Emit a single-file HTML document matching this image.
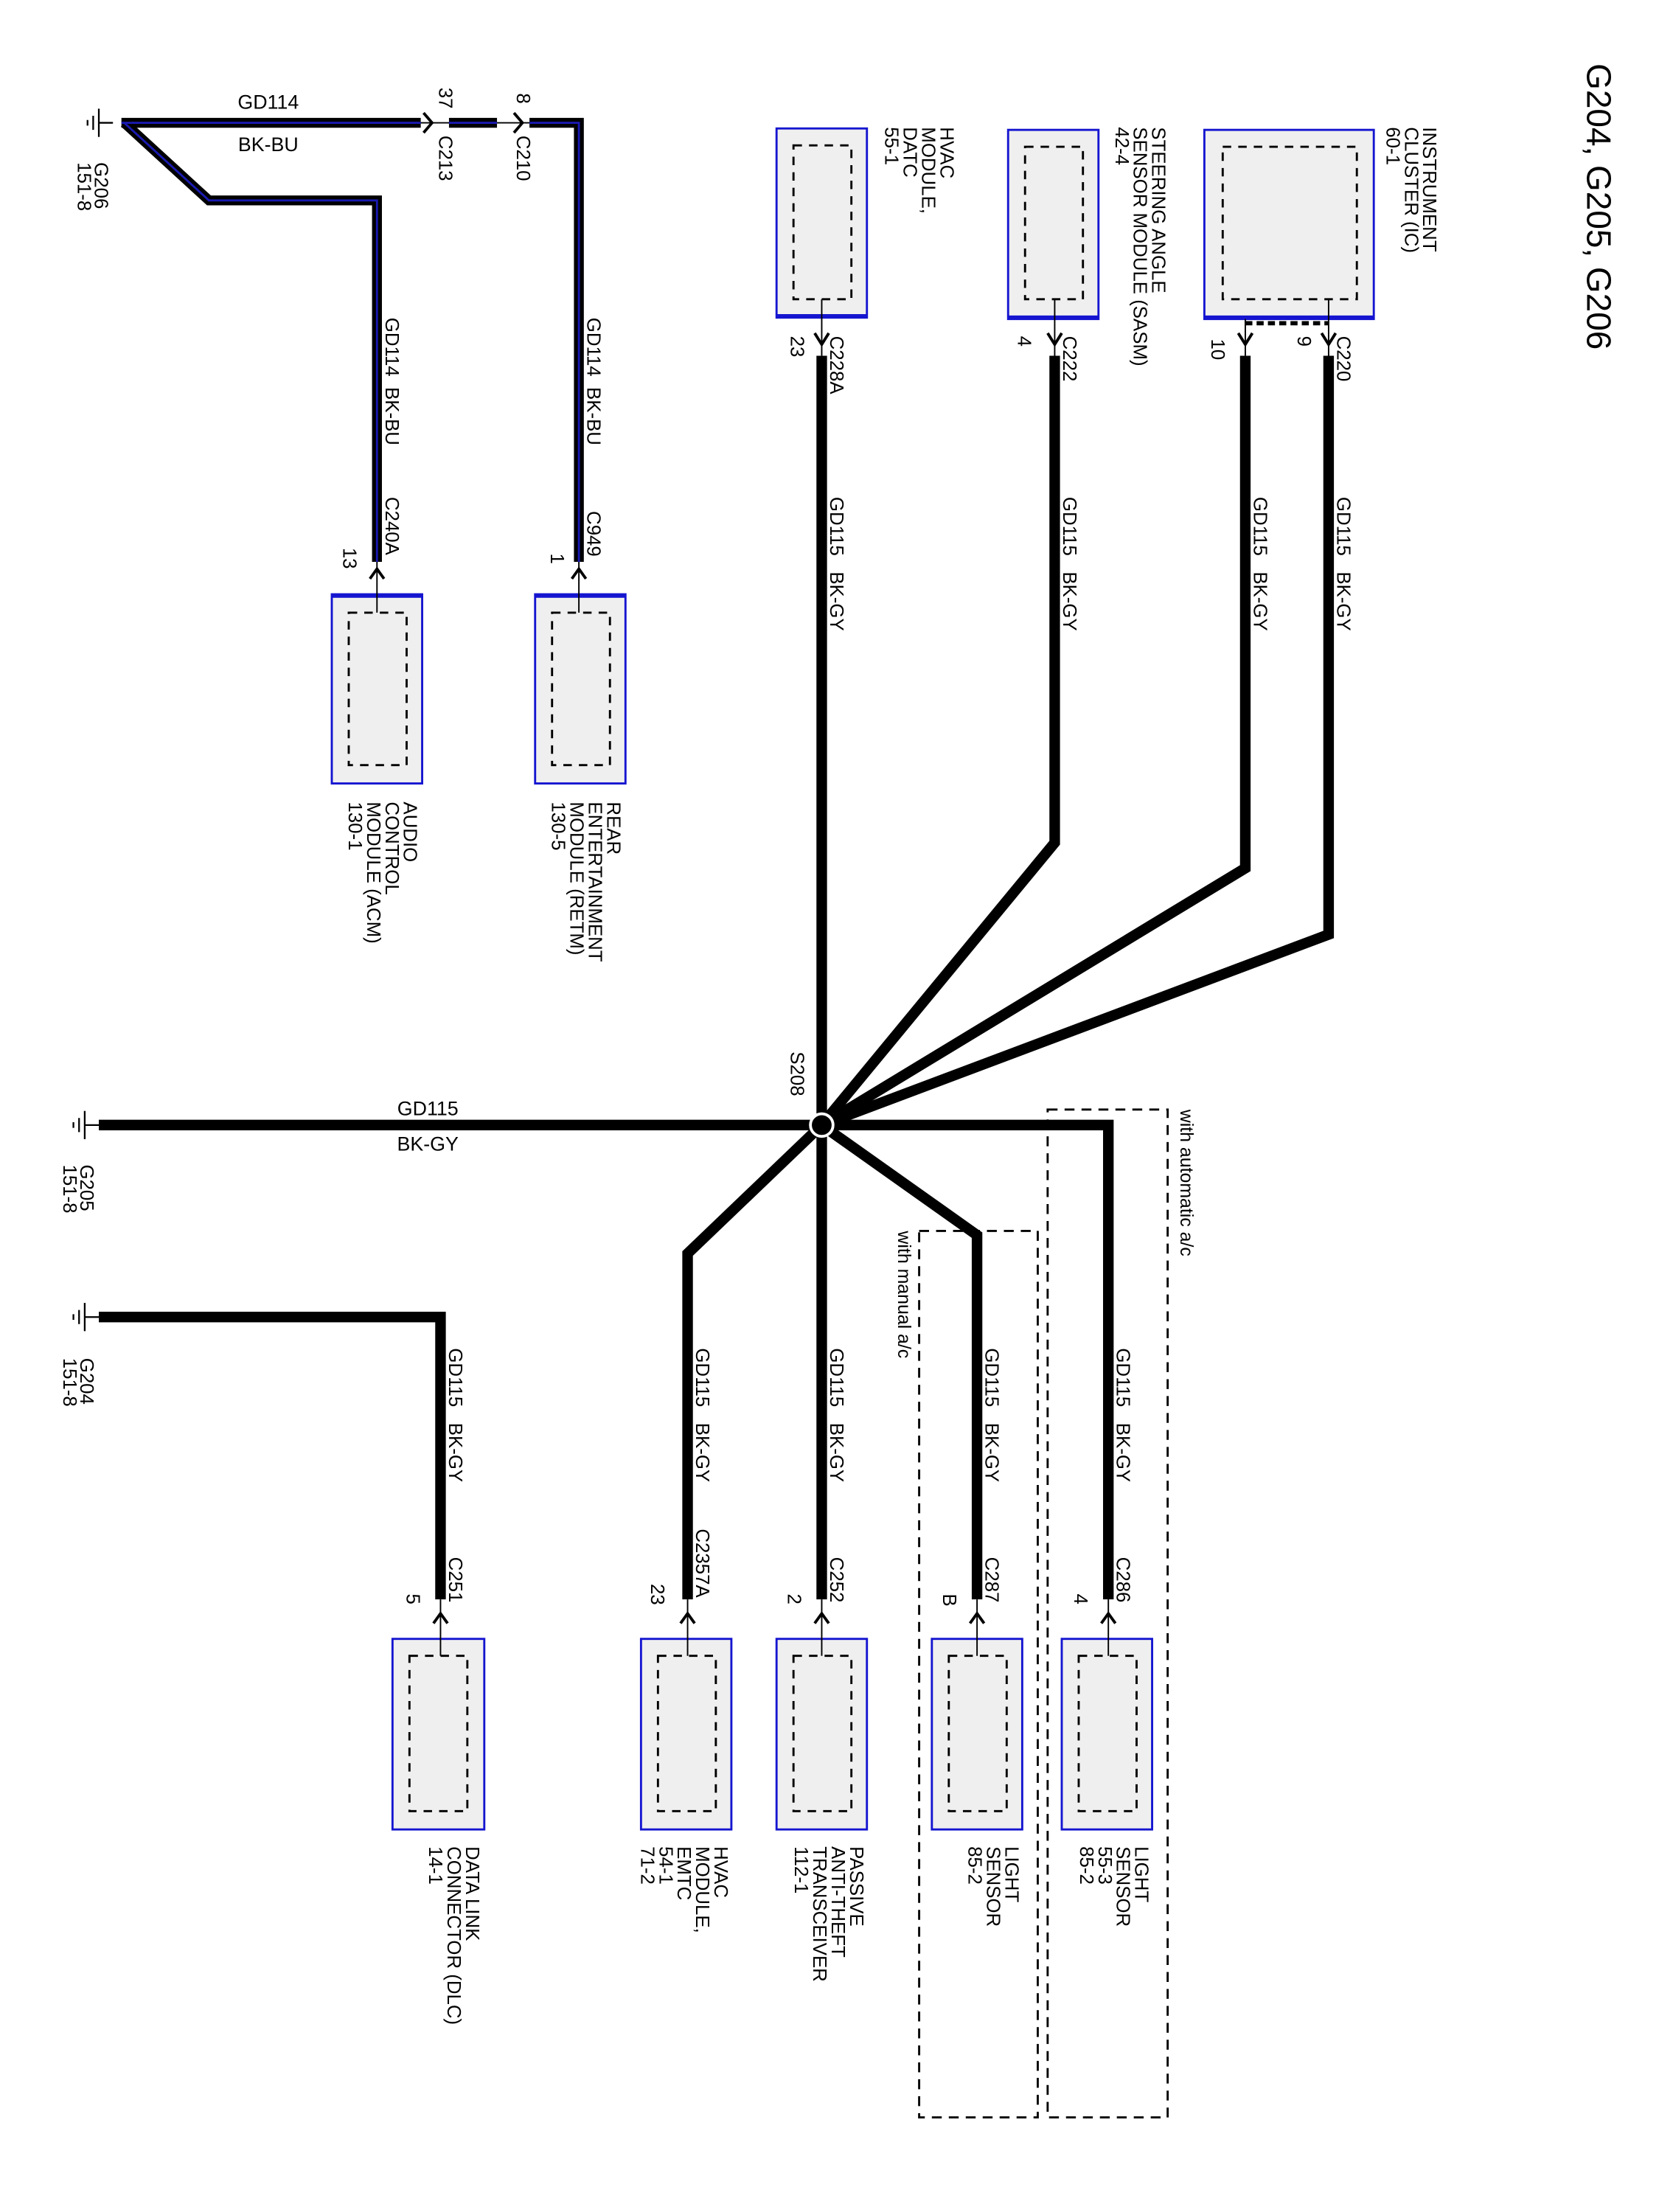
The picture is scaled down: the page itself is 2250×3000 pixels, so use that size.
<!DOCTYPE html>
<html><head><meta charset="utf-8"><style>
html,body{margin:0;padding:0;background:#fff}
svg{display:block}
text{font-family:"Liberation Sans",sans-serif;fill:#000}
</style></head><body>
<svg width="2250" height="3000" viewBox="0 0 1175 1567" preserveAspectRatio="none" xmlns="http://www.w3.org/2000/svg">
<defs>
<g id="gnd"><line x1="0" y1="-2" x2="0" y2="2" stroke="#000" stroke-width="1.2"/><line x1="4" y1="-5" x2="4" y2="5" stroke="#000" stroke-width="1.2"/><line x1="8" y1="-10" x2="8" y2="10" stroke="#000" stroke-width="1.2"/><line x1="8" y1="0" x2="18" y2="0" stroke="#000" stroke-width="1.2"/></g>
</defs>
<text transform="translate(1124,45) rotate(90)" font-size="24">G204, G205, G206</text>

<rect x="651" y="872" width="84" height="628" fill="none" stroke="#000" stroke-width="1.5" stroke-dasharray="7,5"/>
<rect x="742" y="786" width="85" height="714" fill="none" stroke="#000" stroke-width="1.5" stroke-dasharray="7,5"/>
<text transform="translate(636,872) rotate(90)" font-size="13">with manual a/c</text>
<text transform="translate(836,786) rotate(90)" font-size="13">with automatic a/c</text>

<g stroke="#1515d0" stroke-width="1.5" fill="#efefef">
<rect x="550" y="91" width="64" height="134"/>
<rect x="714" y="92" width="64" height="134"/>
<rect x="853" y="92" width="120" height="134"/>
<rect x="379" y="421" width="64" height="134"/>
<rect x="235" y="421" width="64" height="134"/>
<rect x="278" y="1161" width="65" height="135"/>
<rect x="454" y="1161" width="64" height="135"/>
<rect x="550" y="1161" width="64" height="135"/>
<rect x="660" y="1161" width="64" height="135"/>
<rect x="752" y="1161" width="64" height="135"/>
</g>
<g stroke="#1515d0" stroke-width="3">
<line x1="550" y1="224" x2="614" y2="224"/><line x1="714" y1="225" x2="778" y2="225"/><line x1="853" y1="225" x2="973" y2="225"/>
<line x1="379" y1="422" x2="443" y2="422"/><line x1="235" y1="422" x2="299" y2="422"/>
</g>
<g fill="none" stroke="#000" stroke-width="1.5" stroke-dasharray="6,5">
<rect x="562" y="103" width="41" height="109"/>
<rect x="726" y="104" width="41" height="108"/>
<rect x="866" y="104" width="95" height="108"/>
<rect x="391" y="434" width="41" height="108"/>
<rect x="247" y="434" width="41" height="108"/>
<rect x="290" y="1173" width="41" height="110"/>
<rect x="466" y="1173" width="41" height="110"/>
<rect x="562" y="1173" width="41" height="110"/>
<rect x="672" y="1173" width="41" height="110"/>
<rect x="764" y="1173" width="41" height="110"/>
</g>
<line x1="882" y1="229" x2="941" y2="229" stroke="#000" stroke-width="3" stroke-dasharray="5,3"/>

<g stroke="#000" stroke-width="1" fill="none">
<line x1="582" y1="212" x2="582" y2="252"/><line x1="747" y1="212" x2="747" y2="252"/>
<line x1="882" y1="226" x2="882" y2="252"/><line x1="941" y1="212" x2="941" y2="252"/>
<line x1="410" y1="398" x2="410" y2="434"/><line x1="267" y1="398" x2="267" y2="434"/>
<line x1="312" y1="1133" x2="312" y2="1173"/><line x1="487" y1="1133" x2="487" y2="1173"/>
<line x1="582" y1="1133" x2="582" y2="1173"/><line x1="692" y1="1133" x2="692" y2="1173"/>
<line x1="785" y1="1133" x2="785" y2="1173"/>
<line x1="290" y1="87" x2="380" y2="87"/>
</g>
<g stroke="#000" stroke-width="2" fill="none">
<polyline points="577,236 582,244 587,236"/><polyline points="742,236 747,244 752,236"/>
<polyline points="877,236 882,244 887,236"/><polyline points="936,236 941,244 946,236"/>
<polyline points="405,410 410,403 415,410"/><polyline points="262,410 267,403 272,410"/>
<polyline points="307,1150 312,1143 317,1150"/><polyline points="482,1150 487,1143 492,1150"/>
<polyline points="577,1150 582,1143 587,1150"/><polyline points="687,1150 692,1143 697,1150"/>
<polyline points="780,1150 785,1143 790,1150"/>
<polyline points="300,80 306,87 300,94"/><polyline points="364,80 370,87 364,94"/>
</g>

<g fill="none" stroke-linejoin="miter">
<path d="M86,87 H298" stroke="#000" stroke-width="7"/>
<path d="M318,87 H352" stroke="#000" stroke-width="7"/>
<path d="M375,87 H410 V398" stroke="#000" stroke-width="7"/>
<path d="M88,87 L148,142 H267 V398" stroke="#000" stroke-width="7"/>
<path d="M86,87 H298 M318,87 H352 M375,87 H410 V398" stroke="#1a1ab0" stroke-width="1.5"/>
<path d="M88,87 L148,142 H267 V398" stroke="#1a1ab0" stroke-width="1.5"/>
</g>

<g fill="none" stroke="#000" stroke-width="7.5" stroke-linejoin="miter">
<path d="M582,252 V797"/>
<path d="M747,252 V597 L582,797"/>
<path d="M882,252 V615 L582,797"/>
<path d="M941,252 V662 L582,797"/>
<path d="M70,797 H582"/>
<path d="M582,797 H785 V1133"/>
<path d="M582,797 L692,875 V1133"/>
<path d="M582,797 V1133"/>
<path d="M582,797 L487,888 V1133"/>
<path d="M70,933 H312 V1133"/>
</g>
<circle cx="582" cy="797" r="8" fill="#000" stroke="#fff" stroke-width="2"/>

<use href="#gnd" x="62" y="87"/>
<use href="#gnd" x="52" y="797"/>
<use href="#gnd" x="52" y="933"/>

<g font-size="14">
<text x="190" y="77" text-anchor="middle">GD114</text>
<text x="190" y="107" text-anchor="middle">BK-BU</text>
<text x="303" y="790" text-anchor="middle">GD115</text>
<text x="303" y="815" text-anchor="middle">BK-GY</text>
</g>
<g font-size="13.5">
<text transform="translate(67,115) rotate(90)">G206</text><text transform="translate(55,115) rotate(90)">151-8</text>
<text transform="translate(57,825) rotate(90)">G205</text><text transform="translate(45,825) rotate(90)">151-8</text>
<text transform="translate(57,962) rotate(90)">G204</text><text transform="translate(45,962) rotate(90)">151-8</text>
<text transform="translate(311,62) rotate(90)">37</text><text transform="translate(311,96) rotate(90)">C213</text>
<text transform="translate(366,66) rotate(90)">8</text><text transform="translate(366,96) rotate(90)">C210</text>
<text transform="translate(273,225) rotate(90)" xml:space="preserve">GD114  BK-BU</text>
<text transform="translate(273,352) rotate(90)">C240A</text>
<text transform="translate(243,388) rotate(90)">13</text>
<text transform="translate(416,225) rotate(90)" xml:space="preserve">GD114  BK-BU</text>
<text transform="translate(416,362) rotate(90)">C949</text>
<text transform="translate(390,392) rotate(90)">1</text>
<text transform="translate(588,238) rotate(90)">C228A</text><text transform="translate(560,238) rotate(90)">23</text>
<text transform="translate(753,238) rotate(90)">C222</text><text transform="translate(721,238) rotate(90)">4</text>
<text transform="translate(947,238) rotate(90)">C220</text><text transform="translate(919,238) rotate(90)">9</text>
<text transform="translate(858,240) rotate(90)">10</text>
<text transform="translate(588,352) rotate(90)" xml:space="preserve">GD115   BK-GY</text>
<text transform="translate(753,352) rotate(90)" xml:space="preserve">GD115   BK-GY</text>
<text transform="translate(888,352) rotate(90)" xml:space="preserve">GD115   BK-GY</text>
<text transform="translate(947,352) rotate(90)" xml:space="preserve">GD115   BK-GY</text>
<text transform="translate(560,745) rotate(90)">S208</text>
<text transform="translate(318,955) rotate(90)" xml:space="preserve">GD115   BK-GY</text>
<text transform="translate(493,955) rotate(90)" xml:space="preserve">GD115   BK-GY</text>
<text transform="translate(588,955) rotate(90)" xml:space="preserve">GD115   BK-GY</text>
<text transform="translate(698,955) rotate(90)" xml:space="preserve">GD115   BK-GY</text>
<text transform="translate(791,955) rotate(90)" xml:space="preserve">GD115   BK-GY</text>
<text transform="translate(318,1103) rotate(90)">C251</text><text transform="translate(288,1129) rotate(90)">5</text>
<text transform="translate(493,1083) rotate(90)">C2357A</text><text transform="translate(461,1122) rotate(90)">23</text>
<text transform="translate(588,1103) rotate(90)">C252</text><text transform="translate(558,1129) rotate(90)">2</text>
<text transform="translate(698,1103) rotate(90)">C287</text><text transform="translate(668,1129) rotate(90)">B</text>
<text transform="translate(791,1103) rotate(90)">C286</text><text transform="translate(761,1129) rotate(90)">4</text>
</g>
<g font-size="13.5">
<g transform="translate(0,90)">
<text transform="translate(666,0) rotate(90)">HVAC</text><text transform="translate(653,0) rotate(90)">MODULE,</text>
<text transform="translate(640,0) rotate(90)">DATC</text><text transform="translate(627,0) rotate(90)">55-1</text>
</g>
<g transform="translate(0,90)">
<text transform="translate(816,0) rotate(90)">STEERING ANGLE</text><text transform="translate(803,0) rotate(90)">SENSOR MODULE (SASM)</text>
<text transform="translate(790,0) rotate(90)">42-4</text>
</g>
<g transform="translate(0,90)">
<text transform="translate(1008,0) rotate(90)">INSTRUMENT</text><text transform="translate(995,0) rotate(90)">CLUSTER (IC)</text>
<text transform="translate(982,0) rotate(90)">60-1</text>
</g>
<g transform="translate(0,568)">
<text transform="translate(430,0) rotate(90)">REAR</text><text transform="translate(417,0) rotate(90)">ENTERTAINMENT</text>
<text transform="translate(404,0) rotate(90)">MODULE (RETM)</text><text transform="translate(391,0) rotate(90)">130-5</text>
</g>
<g transform="translate(0,568)">
<text transform="translate(286,0) rotate(90)">AUDIO</text><text transform="translate(273,0) rotate(90)">CONTROL</text>
<text transform="translate(260,0) rotate(90)">MODULE (ACM)</text><text transform="translate(247,0) rotate(90)">130-1</text>
</g>
<g transform="translate(0,1308)">
<text transform="translate(330,0) rotate(90)">DATA LINK</text><text transform="translate(317,0) rotate(90)">CONNECTOR (DLC)</text>
<text transform="translate(304,0) rotate(90)">14-1</text>
</g>
<g transform="translate(0,1308)">
<text transform="translate(506,0) rotate(90)">HVAC</text><text transform="translate(493,0) rotate(90)">MODULE,</text>
<text transform="translate(480,0) rotate(90)">EMTC</text><text transform="translate(467,0) rotate(90)">54-1</text>
<text transform="translate(454,0) rotate(90)">71-2</text>
</g>
<g transform="translate(0,1308)">
<text transform="translate(602,0) rotate(90)">PASSIVE</text><text transform="translate(589,0) rotate(90)">ANTI-THEFT</text>
<text transform="translate(576,0) rotate(90)">TRANSCEIVER</text><text transform="translate(563,0) rotate(90)">112-1</text>
</g>
<g transform="translate(0,1308)">
<text transform="translate(712,0) rotate(90)">LIGHT</text><text transform="translate(699,0) rotate(90)">SENSOR</text>
<text transform="translate(686,0) rotate(90)">85-2</text>
</g>
<g transform="translate(0,1308)">
<text transform="translate(804,0) rotate(90)">LIGHT</text><text transform="translate(791,0) rotate(90)">SENSOR</text>
<text transform="translate(778,0) rotate(90)">55-3</text><text transform="translate(765,0) rotate(90)">85-2</text>
</g>
</g>
</svg>
</body></html>
